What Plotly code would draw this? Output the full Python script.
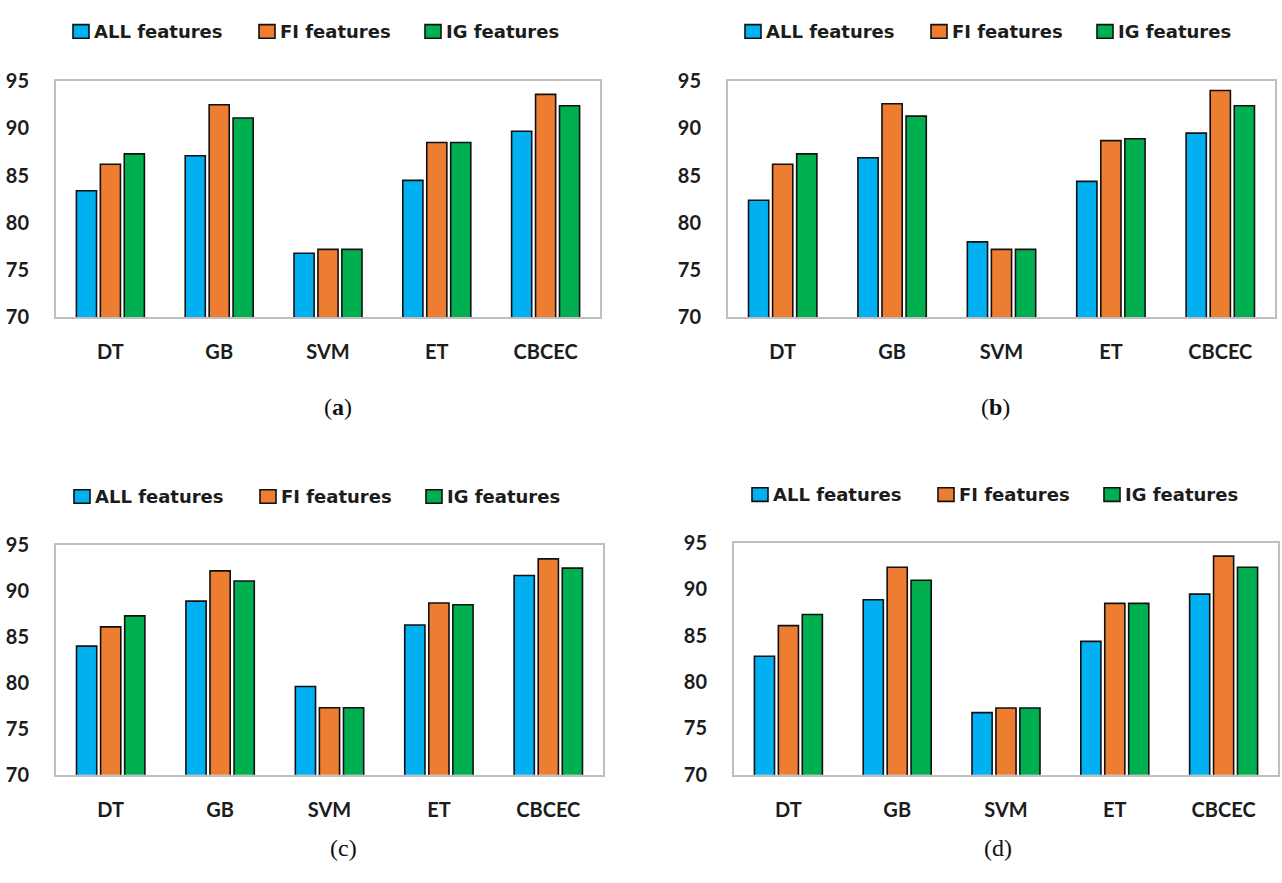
import plotly.graph_objects as go

# Accuracy (%) of each classifier with the three feature sets, four panels
categories = ["DT", "GB", "SVM", "ET", "CBCEC"]
series_names = ["ALL features", "FI features", "IG features"]

a_all = [83.4, 87.1, 76.8, 84.5, 89.7]
a_fi = [86.2, 92.5, 77.2, 88.5, 93.6]
a_ig = [87.3, 91.1, 77.2, 88.5, 92.4]

b_all = [82.4, 86.9, 78.0, 84.4, 89.5]
b_fi = [86.2, 92.6, 77.2, 88.7, 94.0]
b_ig = [87.3, 91.3, 77.2, 88.9, 92.4]

c_all = [84.0, 88.9, 79.6, 86.3, 91.7]
c_fi = [86.1, 92.2, 77.3, 88.7, 93.5]
c_ig = [87.3, 91.1, 77.3, 88.5, 92.5]

d_all = [82.8, 88.9, 76.7, 84.4, 89.5]
d_fi = [86.1, 92.4, 77.2, 88.5, 93.6]
d_ig = [87.3, 91.0, 77.2, 88.5, 92.4]

y_ticks = [70, 75, 80, 85, 90, 95]
captions = ["(<b>a</b>)", "(<b>b</b>)", "(c)", "(d)"]

W, H = 1282, 883
colors = ["#00b0f0", "#ed7d31", "#00b050"]
text_color = "#1c1c1c"
label_font = dict(family="Lato", size=20, color=text_color, weight="bold")
legend_font = dict(family="DejaVu Sans", size=18, color=text_color, weight="bold")


def px_x(v):
    return v / W


def px_y(v):
    return 1 - v / H


panels = [
    dict(values=[a_all, a_fi, a_ig], box=(56, 600, 70, 313), legend=(73, 19), cap=(338, 405)),
    dict(values=[b_all, b_fi, b_ig], box=(728, 1275, 70, 313), legend=(745, 19), cap=(995, 405)),
    dict(values=[c_all, c_fi, c_ig], box=(56, 603, 547, 783), legend=(74, 497), cap=(343, 858)),
    dict(values=[d_all, d_fi, d_ig], box=(734, 1278, 545, 783), legend=(752, 495), cap=(998, 858)),
]

fig = go.Figure()
shapes = []
annotations = []
layout_axes = {}

for i, p in enumerate(panels):
    n = "" if i == 0 else str(i + 1)
    xa, ya = "x" + n, "y" + n
    for vals, name, col in zip(p["values"], series_names, colors):
        fig.add_trace(go.Bar(
            x=categories, y=vals, name=name, xaxis=xa, yaxis=ya,
            marker=dict(color=col, line=dict(color="#111111", width=1.6)),
            showlegend=False,
        ))
    x0, x1, y0, y1 = p["box"]
    layout_axes["xaxis" + n] = dict(
        domain=[px_x(x0), px_x(x1)], anchor=ya,
        showline=True, mirror=True, linecolor="#bfbfbf", linewidth=2,
        showgrid=False, zeroline=False, ticks="",
        tickfont=label_font, ticklabelstandoff=16, fixedrange=True,
    )
    layout_axes["yaxis" + n] = dict(
        domain=[px_y(y1), px_y(y0)], anchor=xa, range=[70, 95],
        tickvals=y_ticks, showline=True, mirror=True, linecolor="#bfbfbf",
        linewidth=2, showgrid=False, zeroline=False, ticks="",
        tickfont=label_font, ticklabelstandoff=21, fixedrange=True,
    )

    # legend row above each panel
    lx, ly = p["legend"]
    for k, (name, col) in enumerate(zip(series_names, colors)):
        sx = lx + [0, 186, 352][k]
        shapes.append(dict(
            type="rect", xref="paper", yref="paper",
            x0=px_x(sx), x1=px_x(sx + 16), y0=px_y(ly + 7), y1=px_y(ly - 7),
            fillcolor=col, line=dict(color="#111111", width=1.6),
        ))
        annotations.append(dict(
            text=name, xref="paper", yref="paper", x=px_x(sx + 19), y=px_y(ly),
            xanchor="left", yanchor="middle", showarrow=False,
            font=legend_font,
        ))

    cx, cy = p["cap"]
    annotations.append(dict(
        text=captions[i], xref="paper", yref="paper", x=px_x(cx), y=px_y(cy),
        xanchor="center", yanchor="middle", showarrow=False,
        font=dict(family="Liberation Serif", size=24, color="#111111"),
    ))

fig.update_layout(
    width=W, height=H,
    margin=dict(l=0, r=0, t=0, b=0),
    paper_bgcolor="white", plot_bgcolor="white",
    barmode="group", bargap=0.34, bargroupgap=0.16,
    shapes=shapes, annotations=annotations,
    **layout_axes,
)

fig.write_html("out.html", config=dict(displayModeBar=False))
